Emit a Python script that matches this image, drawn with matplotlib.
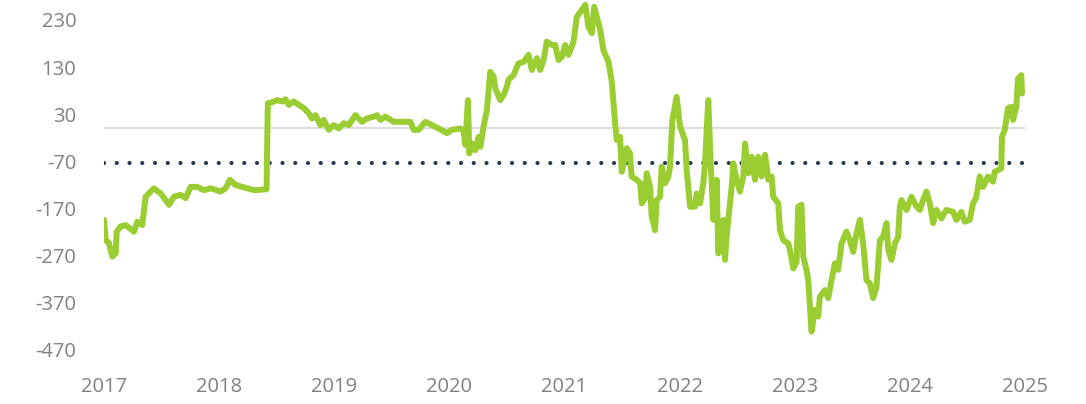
import matplotlib.pyplot as plt
import numpy as np

plt.rcParams['font.family'] = ['Open Sans', 'DejaVu Sans']
plt.rcParams['axes.unicode_minus'] = False

# time in years since start of 2017
t = [0.000, 0.015, 0.043, 0.072, 0.102, 0.110, 0.145, 0.188, 0.260, 0.289,
     0.332, 0.362, 0.405, 0.434, 0.492, 0.535, 0.564, 0.607, 0.666, 0.709,
     0.752, 0.810, 0.868, 0.926, 1.013, 1.056, 1.093, 1.143, 1.200, 1.243,
     1.302, 1.412, 1.423, 1.475, 1.504, 1.547, 1.577, 1.605, 1.649, 1.692,
     1.735, 1.779, 1.807, 1.837, 1.880, 1.909, 1.952, 1.996, 2.039, 2.082,
     2.126, 2.184, 2.241, 2.285, 2.343, 2.371, 2.401, 2.444, 2.516, 2.588,
     2.661, 2.690, 2.733, 2.791, 2.849, 2.907, 2.979, 3.022, 3.095, 3.124,
     3.138, 3.161, 3.173, 3.196, 3.226, 3.254, 3.269, 3.297, 3.326, 3.355,
     3.384, 3.399, 3.442, 3.471, 3.499, 3.514, 3.557, 3.601, 3.644, 3.688,
     3.716, 3.760, 3.789, 3.818, 3.846, 3.890, 3.919, 3.948, 3.977, 4.006,
     4.035, 4.078, 4.107, 4.150, 4.180, 4.208, 4.237, 4.258, 4.280, 4.310,
     4.338, 4.382, 4.410, 4.440, 4.454, 4.483, 4.497, 4.527, 4.540, 4.569,
     4.583, 4.627, 4.657, 4.671, 4.700, 4.714, 4.744, 4.757, 4.787, 4.801,
     4.830, 4.844, 4.874, 4.902, 4.917, 4.937, 4.974, 5.004, 5.047, 5.061,
     5.091, 5.134, 5.148, 5.177, 5.206, 5.221, 5.235, 5.249, 5.264, 5.293,
     5.322, 5.336, 5.365, 5.380, 5.394, 5.408, 5.423, 5.452, 5.466, 5.495,
     5.524, 5.553, 5.568, 5.597, 5.625, 5.655, 5.683, 5.712, 5.742, 5.770,
     5.799, 5.813, 5.857, 5.872, 5.900, 5.944, 5.958, 5.987, 6.016, 6.030,
     6.059, 6.074, 6.102, 6.117, 6.132, 6.146, 6.175, 6.204, 6.218, 6.262,
     6.291, 6.319, 6.349, 6.377, 6.406, 6.449, 6.479, 6.508, 6.536, 6.566,
     6.594, 6.623, 6.653, 6.681, 6.710, 6.740, 6.768, 6.797, 6.812, 6.840,
     6.870, 6.898, 6.913, 6.927, 6.971, 7.014, 7.058, 7.087, 7.115, 7.144,
     7.173, 7.202, 7.230, 7.274, 7.317, 7.375, 7.404, 7.447, 7.477, 7.520,
     7.549, 7.578, 7.607, 7.636, 7.679, 7.722, 7.737, 7.794, 7.800, 7.824,
     7.852, 7.881, 7.896, 7.925, 7.939, 7.968, 7.974]

values = [-194, -237, -243, -272, -265, -219, -208, -205, -219, -198,
          -205, -145, -134, -127, -138, -152, -162, -145, -141, -148,
          -124, -124, -131, -127, -134, -127, -109, -120, -124, -127,
          -131, -129, 53, 57, 60, 57, 62, 50, 57, 50,
          43, 32, 21, 28, 7, 18, -3, 7, 0, 11,
          7, 28, 14, 21, 25, 28, 18, 25, 14, 14,
          14, -3, -3, 14, 7, 0, -10, -3, 0, -7,
          -35, 60, -53, -32, -46, -18, -39, 4, 39, 120,
          110, 85, 60, 71, 88, 103, 113, 138, 141, 156,
          124, 149, 124, 145, 184, 177, 177, 145, 152, 177,
          156, 184, 237, 251, 262, 216, 202, 258, 237, 209,
          166, 141, 100, 11, -25, -18, -92, -60, -42, -53,
          -102, -109, -116, -159, -148, -95, -124, -187, -216, -152,
          -145, -81, -116, -102, -81, 18, 67, 4, -25, -88,
          -166, -166, -138, -159, -116, -74, -3, 60, -39, -194,
          -109, -265, -251, -194, -279, -230, -194, -124, -74, -109,
          -134, -102, -32, -95, -60, -109, -60, -102, -56, -109,
          -102, -145, -159, -216, -237, -244, -258, -297, -283, -166,
          -162, -272, -300, -322, -378, -431, -385, -399, -357, -343,
          -360, -322, -286, -300, -244, -219, -237, -262, -223, -194,
          -244, -322, -329, -360, -336, -237, -230, -201, -258, -279,
          -244, -230, -166, -152, -173, -145, -166, -173, -152, -134,
          -159, -201, -173, -191, -173, -177, -194, -177, -198, -194,
          -159, -145, -102, -124, -102, -113, -92, -85, -18, -3,
          43, 46, 18, 46, 106, 113, 74]

years = [2017, 2018, 2019, 2020, 2021, 2022, 2023, 2024, 2025]
y_ticks = [230, 130, 30, -70, -170, -270, -370, -470]
avg_level = -73

x = 2017 + np.array(t)

fig = plt.figure(figsize=(10.86, 4.04), dpi=100)
ax = fig.add_axes([104 / 1086, 44 / 404, 921 / 1086, 360 / 404])

ax.axhline(0, color='#dedede', lw=1.6, zorder=1)
ax.plot([2017, 2025], [avg_level, avg_level], color='#213a52', lw=3,
        dashes=(0.01, 3.05), dash_capstyle='round', zorder=2)
ax.plot(x, values, color='#9acd32', lw=4.3, solid_joinstyle='round',
        solid_capstyle='round', zorder=3)

ax.set_xlim(2017, 2025)
ax.set_ylim(-491.3, 272.4)
ax.set_xticks(years)
ax.set_xticklabels([str(y) for y in years])
ax.set_yticks(y_ticks)
ax.set_yticklabels([str(v) for v in y_ticks])
ax.tick_params(axis='both', length=0, labelsize=14.5, labelcolor='#808080')
ax.tick_params(axis='y', pad=20)
ax.tick_params(axis='x', pad=12)
for s in ax.spines.values():
    s.set_visible(False)

fig.savefig('out.png', dpi=100)
